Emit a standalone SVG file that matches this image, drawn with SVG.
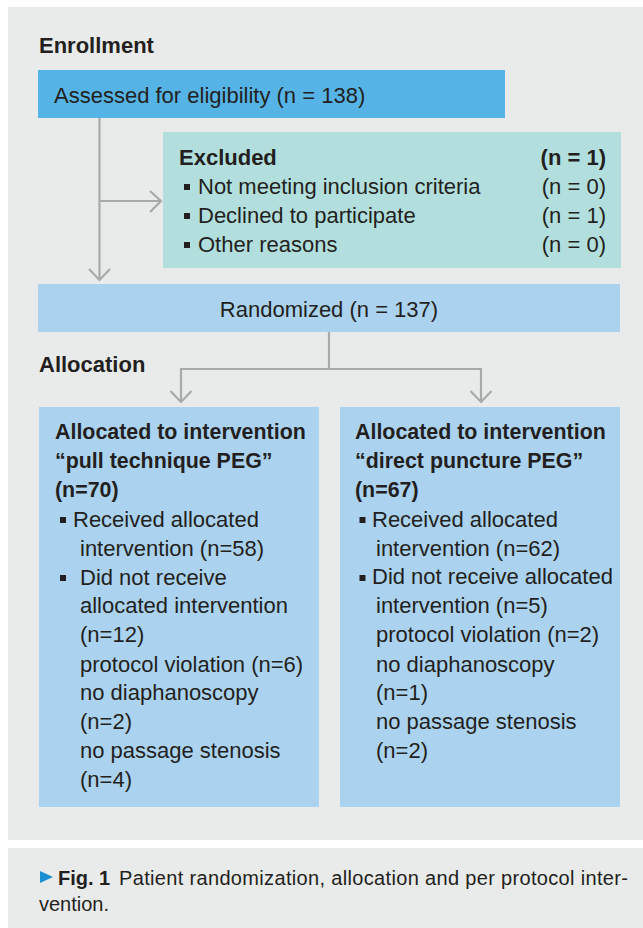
<svg xmlns="http://www.w3.org/2000/svg" width="643" height="928" viewBox="0 0 643 928">
<style>
text{font-family:"Liberation Sans",Arial,sans-serif;font-size:22px;fill:#231f20}
.b{font-weight:bold}
.bb{font-weight:bold;font-size:21.4px}
.cap{font-size:20px}
.con{fill:none;stroke:#a8a9ab;stroke-width:2.2}
.bul{fill:#231f20}
</style>
<rect x="0" y="0" width="643" height="928" fill="#ffffff"/>
<rect x="8" y="7" width="635" height="833" fill="#e9ebea"/>
<rect x="8" y="848" width="635" height="80" fill="#e9ebea"/>
<text class="b" x="39" y="53">Enrollment</text>
<text class="b" x="39" y="372">Allocation</text>
<g id="connectors">
<path class="con" d="M99.5,118 V280"/>
<path class="con" d="M89,269 L99.5,280 L110,269"/>
<path class="con" d="M99.5,201 H161"/>
<path class="con" d="M150,191 L161,201 L150,212"/>
<path class="con" d="M329,332 V369 M181,369 H481 M181,368 V402 M481,368 V402"/>
<path class="con" d="M170.5,391 L181,402 L191.5,391 M470.5,391 L481,402 L491.5,391"/>
</g>
<g id="assessed">
<rect x="38" y="70" width="467" height="48" fill="#55b4e5"/>
<text x="54" y="103">Assessed for eligibility (n = 138)</text>
</g>
<g id="excluded">
<rect x="163" y="132" width="458" height="136" fill="#b2dfdd"/>
<text class="b" x="179" y="165">Excluded</text>
<text class="b" x="606" y="165" text-anchor="end">(n = 1)</text>
<rect class="bul" x="184" y="184" width="6" height="6"/>
<text x="198" y="194">Not meeting inclusion criteria</text>
<text x="606" y="194" text-anchor="end">(n = 0)</text>
<rect class="bul" x="184" y="213" width="6" height="6"/>
<text x="198" y="223">Declined to participate</text>
<text x="606" y="223" text-anchor="end">(n = 1)</text>
<rect class="bul" x="184" y="242" width="6" height="6"/>
<text x="198" y="252">Other reasons</text>
<text x="606" y="252" text-anchor="end">(n = 0)</text>
</g>
<g id="randomized">
<rect x="38" y="284" width="582" height="48" fill="#abd3ef"/>
<text x="329" y="317" text-anchor="middle">Randomized (n = 137)</text>
</g>
<g id="pull">
<rect x="39" y="407" width="280" height="400" fill="#abd3ef"/>
<text class="bb" x="55" y="439">Allocated to intervention</text>
<text class="bb" x="55" y="468">“pull technique PEG”</text>
<text class="bb" x="55" y="497">(n=70)</text>
<rect class="bul" x="60" y="517" width="6" height="6"/>
<text x="73" y="527">Received allocated</text>
<text x="80" y="556">intervention (n=58)</text>
<rect class="bul" x="60" y="575" width="6" height="6"/>
<text x="80" y="585">Did not receive</text>
<text x="80" y="613">allocated intervention</text>
<text x="80" y="642">(n=12)</text>
<text x="80" y="672">protocol violation (n=6)</text>
<text x="80" y="700">no diaphanoscopy</text>
<text x="80" y="729">(n=2)</text>
<text x="80" y="758">no passage stenosis</text>
<text x="80" y="787">(n=4)</text>
</g>
<g id="direct">
<rect x="340" y="407" width="280" height="400" fill="#abd3ef"/>
<text class="bb" x="355" y="439">Allocated to intervention</text>
<text class="bb" x="355" y="468">“direct puncture PEG”</text>
<text class="bb" x="355" y="497">(n=67)</text>
<rect class="bul" x="359.5" y="517" width="6" height="6"/>
<text x="372" y="527">Received allocated</text>
<text x="376" y="556">intervention (n=62)</text>
<rect class="bul" x="359.5" y="575" width="6" height="6"/>
<text x="372" y="584">Did not receive allocated</text>
<text x="376" y="613">intervention (n=5)</text>
<text x="376" y="642">protocol violation (n=2)</text>
<text x="376" y="672">no diaphanoscopy</text>
<text x="376" y="700">(n=1)</text>
<text x="376" y="729">no passage stenosis</text>
<text x="376" y="758">(n=2)</text>
</g>
<g id="caption">
<path d="M40,871 L53,877 L40,883 Z" fill="#1b8fd2"/>
<text class="cap b" x="58" y="885">Fig. 1</text>
<text class="cap" x="119" y="885" textLength="509" lengthAdjust="spacing">Patient randomization, allocation and per protocol inter-</text>
<text class="cap" x="39" y="911">vention.</text>
</g>
</svg>
